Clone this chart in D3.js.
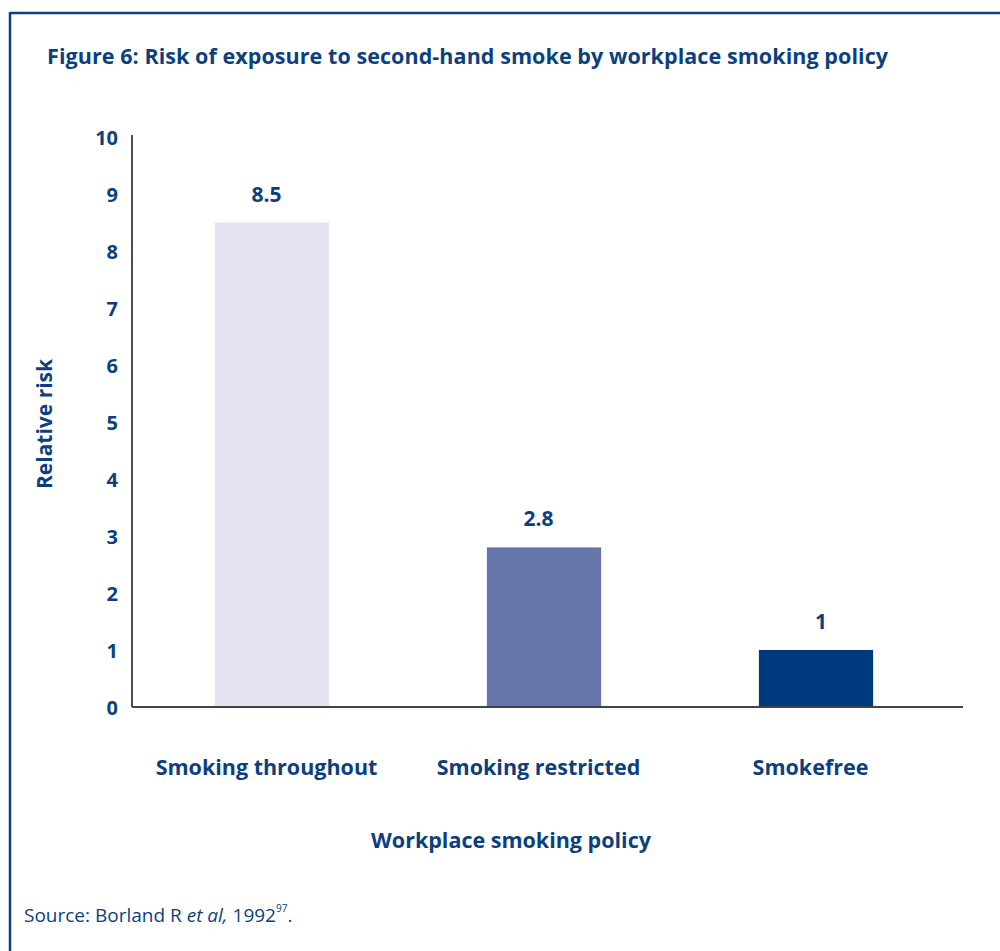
<!DOCTYPE html>
<html>
<head>
<meta charset="utf-8">
<script src="https://cdn.jsdelivr.net/npm/d3@7"></script>
<style>
  body { margin: 0; background: #fff; }
  svg text { font-family: "Open Sans", "Noto Sans", sans-serif; fill: #0d3f7f; }
</style>
</head>
<body>
<div id="chart"></div>
<script>
// chart data
var categories = ["Smoking throughout", "Smoking restricted", "Smokefree"];
var values = [8.5, 2.8, 1];
var valueLabels = ["8.5", "2.8", "1"];
var barColors = ["#e5e4f2", "#6675aa", "#003a7e"];
var yTicks = [0, 1, 2, 3, 4, 5, 6, 7, 8, 9, 10];

var width = 1000, height = 951;
// labels in the original sit a little off the bar centres
var labelShift = [-5.5, -5.5, 5];

var svg = d3.select("#chart")
	.append("svg")
		.attr("width", width)
		.attr("height", height);

// frame: top and left rules
svg.append("line")
	.attr("x1", 10).attr("x2", width)
	.attr("y1", 13).attr("y2", 13)
	.style("stroke", "#0d3f7f").style("stroke-width", 2.5);
svg.append("line")
	.attr("x1", 10).attr("x2", 10)
	.attr("y1", 12).attr("y2", height)
	.style("stroke", "#0d3f7f").style("stroke-width", 2.5);

svg.append("text")
	.attr("x", 47)
	.attr("y", 64)
	.attr("textLength", 841)
	.style("font-size", "21.5px")
	.style("font-weight", "bold")
	.text("Figure 6: Risk of exposure to second-hand smoke by workplace smoking policy");

var x = d3.scaleBand()
	.domain(categories)
	.range([136, 952])
	.paddingInner(0.58)
	.paddingOuter(0.29);

var y = d3.scaleLinear()
	.domain([0, 10])
	.range([707, 137]);

// bars
svg.selectAll(".bar")
	.data(values)
	.enter().append("rect")
		.attr("class", "bar")
		.attr("x", function(d, i) { return x(categories[i]); })
		.attr("width", x.bandwidth())
		.attr("y", function(d) { return y(d); })
		.attr("height", function(d) { return y(0) - y(d); })
		.style("fill", function(d, i) { return barColors[i]; });

// value labels
svg.selectAll(".vlabel")
	.data(values)
	.enter().append("text")
		.attr("class", "vlabel")
		.attr("x", function(d, i) { return x(categories[i]) + x.bandwidth() / 2 + labelShift[i]; })
		.attr("y", function(d) { return y(d) - 21; })
		.style("text-anchor", "middle")
		.style("font-size", "21px")
		.style("font-weight", "bold")
		.text(function(d, i) { return valueLabels[i]; });

// y axis
var yAxis = d3.axisLeft(y).tickValues(yTicks).tickSize(0).tickPadding(14);
var gy = svg.append("g")
	.attr("transform", "translate(132,0)")
	.call(yAxis);
gy.select(".domain").style("stroke", "#111").style("stroke-width", 1.5)
	.attr("d", "M0," + (y(10) - 2) + "V" + y(0));
gy.selectAll("text")
	.attr("dy", "0.35em")
	.style("font-size", "20px")
	.style("font-weight", "bold")
	.style("fill", "#0d3f7f")
	.style("font-family", "'Open Sans', sans-serif");

// x axis baseline
svg.append("line")
	.attr("x1", 132).attr("x2", 963)
	.attr("y1", y(0)).attr("y2", y(0))
	.style("stroke", "#444").style("stroke-width", 2);

// category labels
svg.selectAll(".clabel")
	.data(categories)
	.enter().append("text")
		.attr("class", "clabel")
		.attr("x", function(d) { return x(d) + x.bandwidth() / 2 - 5.5; })
		.attr("y", 775)
		.style("text-anchor", "middle")
		.style("font-size", "21.5px")
		.style("font-weight", "bold")
		.text(function(d) { return d; });

// axis titles
svg.append("text")
	.attr("x", 511)
	.attr("y", 848)
	.style("text-anchor", "middle")
	.style("font-size", "21.5px")
	.style("font-weight", "bold")
	.text("Workplace smoking policy");

svg.append("text")
	.attr("transform", "translate(52,424) rotate(-90)")
	.style("text-anchor", "middle")
	.style("font-size", "21px")
	.style("font-weight", "bold")
	.text("Relative risk");

// source note
var src = svg.append("text")
	.attr("x", 24)
	.attr("y", 922)
	.style("font-size", "19px");
src.append("tspan").text("Source: Borland R ");
src.append("tspan").style("font-style", "italic").text("et al,");
src.append("tspan").text(" 1992");
src.append("tspan").attr("dy", -10).style("font-size", "10px").text("97");
src.append("tspan").attr("dy", 10).text(".");
</script>
</body>
</html>
